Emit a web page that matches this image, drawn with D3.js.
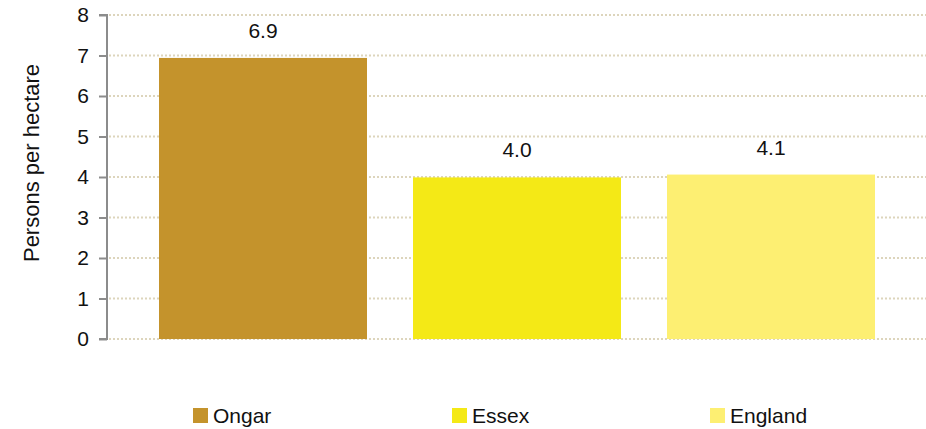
<!DOCTYPE html>
<html>
<head>
<meta charset="utf-8">
<script src="https://cdn.jsdelivr.net/npm/d3@7"></script>
<style>
  html, body { margin: 0; padding: 0; background: #fff; }
  svg text { font-family: "Liberation Sans", Arial, sans-serif; fill: #111; }
</style>
</head>
<body>
<svg id="chart" width="926" height="429"></svg>
<script>
const categories = ["Ongar", "Essex", "England"];
const values = [6.94, 3.99, 4.06];
const labels = ["6.9", "4.0", "4.1"];
const colors = ["#c4932c", "#f4e916", "#fdef72"];
const yTicks = [0, 1, 2, 3, 4, 5, 6, 7, 8];
const yTitle = "Persons per hectare";

const svg = d3.select("#chart");
const axisX = 107;
const y = d3.scaleLinear().domain([0, 8]).range([339, 15]);
const x = d3.scaleBand().domain(categories).range([136, 898]).paddingInner(46 / 254).paddingOuter(23 / 254);

// gridlines
svg.append("g").selectAll("line").data(yTicks).join("line")
  .attr("x1", axisX + 2).attr("x2", 926)
  .attr("y1", d => y(d)).attr("y2", d => y(d))
  .attr("stroke", "#ddd5bc").attr("stroke-width", 1.8)
  .attr("stroke-dasharray", "2,2");

// bars
svg.append("g").selectAll("rect").data(categories).join("rect")
  .attr("x", d => x(d)).attr("width", x.bandwidth())
  .attr("y", (d, i) => y(values[i]))
  .attr("height", (d, i) => y(0) - y(values[i]))
  .attr("fill", (d, i) => colors[i]);

// value labels
svg.append("g").selectAll("text").data(categories).join("text")
  .attr("x", d => x(d) + x.bandwidth() / 2)
  .attr("y", (d, i) => y(values[i]) - 20)
  .attr("text-anchor", "middle")
  .style("font-size", "21px")
  .text((d, i) => labels[i]);

// y axis
const yAxis = d3.axisLeft(y).tickValues(yTicks).tickSize(8).tickPadding(10).tickFormat(d3.format("d"));
const gy = svg.append("g").attr("transform", `translate(${axisX},0)`).call(yAxis);
gy.select(".domain").attr("stroke", "#8c8c8c").attr("stroke-width", 2).attr("d", `M-8,${y(8)}H0V${y(0)}H-8`);
gy.selectAll(".tick line").attr("stroke", "#8c8c8c").attr("stroke-width", 2);
gy.selectAll(".tick text").style("font-size", "21px").style("font-family", "Liberation Sans, Arial, sans-serif").attr("fill", "#111");

// y title
svg.append("text")
  .attr("transform", "translate(39,163) rotate(-90)")
  .attr("text-anchor", "middle")
  .style("font-size", "22px")
  .text(yTitle);

// legend
const legendX = [193, 452, 710];
const lg = svg.append("g").selectAll("g").data(categories).join("g")
  .attr("transform", (d, i) => `translate(${legendX[i]},408)`);
lg.append("rect").attr("width", 15).attr("height", 15).attr("fill", (d, i) => colors[i]);
lg.append("text").attr("x", 20).attr("y", 15).style("font-size", "21px").text(d => d);
</script>
</body>
</html>
